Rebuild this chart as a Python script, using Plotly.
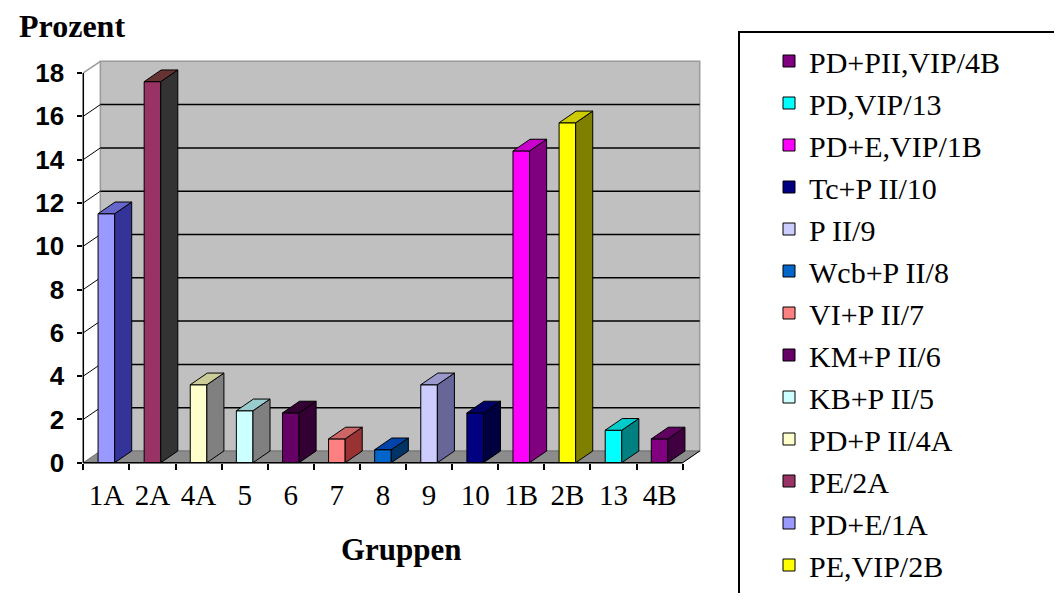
import plotly.graph_objects as go

# ---------------- data ----------------
categories = ["1A", "2A", "4A", "5", "6", "7", "8", "9", "10", "1B", "2B", "13", "4B"]
values = [11.5, 17.6, 3.6, 2.4, 2.3, 1.1, 0.6, 3.6, 2.3, 14.4, 15.7, 1.5, 1.1]
legend_labels = ["PD+E/1A", "PE/2A", "PD+P II/4A", "KB+P II/5", "KM+P II/6", "VI+P II/7",
                 "Wcb+P II/8", "P II/9", "Tc+P II/10", "PD+E,VIP/1B", "PE,VIP/2B",
                 "PD,VIP/13", "PD+PII,VIP/4B"]
legend_order = ["4B", "13", "1B", "10", "9", "8", "7", "6", "5", "4A", "2A", "1A", "2B"]
y_ticks = [0, 2, 4, 6, 8, 10, 12, 14, 16, 18]

front_colors = ["#9999FF", "#993366", "#FFFFCC", "#CCFFFF", "#660066", "#FF8080", "#0066CC",
                "#CCCCFF", "#000080", "#FF00FF", "#FFFF00", "#00FFFF", "#800080"]
side_colors = ["#333399", "#333333", "#808080", "#808080", "#330033", "#993333", "#003366",
               "#666699", "#000040", "#800080", "#808000", "#008080", "#400040"]
top_colors = ["#6666CC", "#663333", "#CCCC99", "#99CCCC", "#330033", "#CC6666", "#0044AA",
              "#9999CC", "#000066", "#CC00CC", "#CCCC00", "#00CCCC", "#600060"]

# ---------------- geometry (pseudo 3D) ----------------
# figure is 16 px smaller than the window: the page body adds an 8 px margin
W, H = 1046, 585
OFF = 8
BW = 0.36      # bar front width (category units)
DX = 0.37      # depth offset in x units
DY = 0.54      # depth offset in y units
YMAX = 18
N = len(categories)
X0, X1 = -0.5, N - 0.5 + DX
Y0, Y1 = 0.0, YMAX + DY + 0.06


def fx(p):  # window pixel x -> paper fraction
    return (p - OFF) / W


def fy(p):  # window pixel y -> paper fraction
    return (H - (p - OFF)) / H


XD = [fx(83.3), fx(699.7)]
YD = [fy(462.7), fy(60.0)]


def px(x):
    return XD[0] + (x - X0) / (X1 - X0) * (XD[1] - XD[0])


def py(y):
    return YD[0] + (y - Y0) / (Y1 - Y0) * (YD[1] - YD[0])


fig = go.Figure()

# front faces (bars)
for i, (c, v) in enumerate(zip(categories, values)):
    fig.add_trace(go.Bar(
        x=[i], y=[v], width=BW, name=legend_labels[i],
        marker=dict(color=front_colors[i], line=dict(color="black", width=1)),
        legendrank=legend_order.index(c) + 1, hoverinfo="skip",
    ))

# side and top faces
for i, v in enumerate(values):
    xr = i + BW / 2
    xl = i - BW / 2
    fig.add_trace(go.Scatter(
        x=[xr, xr + DX, xr + DX, xr, xr], y=[0, DY, v + DY, v, 0],
        mode="lines", fill="toself", fillcolor=side_colors[i],
        line=dict(color="black", width=1), showlegend=False, hoverinfo="skip",
        cliponaxis=False))
    fig.add_trace(go.Scatter(
        x=[xl, xr, xr + DX, xl + DX, xl], y=[v, v, v + DY, v + DY, v],
        mode="lines", fill="toself", fillcolor=top_colors[i],
        line=dict(color="black", width=1), showlegend=False, hoverinfo="skip",
        cliponaxis=False))

shapes = []
# back wall
shapes.append(dict(type="rect", xref="paper", yref="paper", layer="below",
                   x0=px(X0 + DX), x1=px(N - 0.5 + DX), y0=py(DY), y1=py(YMAX + DY),
                   fillcolor="#C0C0C0", line=dict(color="#9A9A9A", width=1.5)))
# floor
fp = [(X0, 0), (N - 0.5, 0), (N - 0.5 + DX, DY), (X0 + DX, DY)]
path = "M " + " L ".join(f"{px(a):.5f},{py(b):.5f}" for a, b in fp) + " Z"
shapes.append(dict(type="path", xref="paper", yref="paper", layer="below", path=path,
                   fillcolor="#8C8C8C", line=dict(color="#707070", width=1)))
# gridlines on back wall + connectors on side wall
for v in y_ticks[1:]:
    if v < YMAX:
        shapes.append(dict(type="line", xref="paper", yref="paper", layer="below",
                           x0=px(X0 + DX), x1=px(N - 0.5 + DX), y0=py(v + DY), y1=py(v + DY),
                           line=dict(color="black", width=1.5)))
        shapes.append(dict(type="line", xref="paper", yref="paper", layer="below",
                           x0=px(X0), x1=px(X0 + DX), y0=py(v), y1=py(v + DY),
                           line=dict(color="black", width=1)))
shapes.append(dict(type="line", xref="paper", yref="paper", layer="below",
                   x0=px(X0), x1=px(X0 + DX), y0=py(YMAX), y1=py(YMAX + DY),
                   line=dict(color="#9A9A9A", width=1.5)))
# axis lines
shapes.append(dict(type="line", xref="paper", yref="paper", x0=px(X0), x1=px(X0),
                   y0=py(0), y1=py(YMAX), line=dict(color="black", width=1.5)))
shapes.append(dict(type="line", xref="paper", yref="paper", x0=px(X0), x1=px(N - 0.5),
                   y0=py(0), y1=py(0), line=dict(color="black", width=1.5)))
shapes.append(dict(type="line", xref="paper", yref="paper", x0=px(N - 0.5), x1=px(N - 0.5 + DX),
                   y0=py(0), y1=py(DY), line=dict(color="black", width=1)))
# legend frame
shapes.append(dict(type="rect", xref="paper", yref="paper", x0=fx(739), x1=1.05,
                   y0=-0.05, y1=fy(32),
                   line=dict(color="black", width=2), fillcolor="rgba(0,0,0,0)"))

fig.update_layout(
    width=W, height=H,
    margin=dict(l=0, r=0, t=0, b=0, autoexpand=False),
    paper_bgcolor="white", plot_bgcolor="rgba(0,0,0,0)",
    barmode="overlay",
    shapes=shapes,
    showlegend=True,
    legend=dict(x=fx(769), y=fy(35), xanchor="left", yanchor="top",
                xref="container", yref="container",
                traceorder="normal",
                font=dict(family="Liberation Serif", size=30, color="black"),
                bgcolor="rgba(0,0,0,0)", borderwidth=0),
    xaxis=dict(domain=XD, range=[X0, X1], tickmode="array", tickvals=list(range(N)),
               ticktext=categories, ticks="", showgrid=False, zeroline=False, showline=False,
               tickfont=dict(family="Liberation Serif", size=29, color="black"),
               ticklabelstandoff=12,
               minor=dict(tickvals=[i - 0.5 for i in range(N + 1)], ticks="outside",
                          ticklen=6, tickwidth=1.5, tickcolor="black", showgrid=False)),
    yaxis=dict(domain=YD, range=[Y0, Y1], tickmode="array", tickvals=y_ticks, ticks="outside",
               ticklen=5, tickwidth=1.5, tickcolor="black", showgrid=False, zeroline=False,
               showline=False, ticklabelstandoff=8,
               tickfont=dict(family="Liberation Sans", size=26, color="black", weight="bold")),
    annotations=[
        dict(text="<b>Prozent</b>", xref="paper", yref="paper", x=fx(72),
             y=fy(26), xanchor="center", yanchor="middle", showarrow=False,
             font=dict(family="Liberation Serif", size=32, color="black")),
        dict(text="<b>Gruppen</b>", xref="paper", yref="paper", x=fx(401),
             y=fy(549), xanchor="center", yanchor="middle", showarrow=False,
             font=dict(family="Liberation Serif", size=31, color="black")),
    ],
)

# let the legend run to the bottom edge without a scroll bar, as in the original
try:
    fig.update_layout(legend_maxheight=2000)
except (ValueError, AttributeError):
    fig.update_layout(legend_font_size=28, legend_y=fy(28))

fig.write_html("out.html")
